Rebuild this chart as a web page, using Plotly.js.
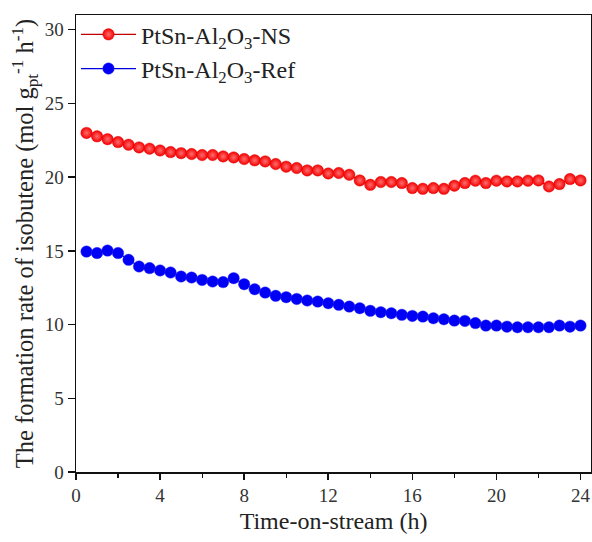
<!DOCTYPE html>
<html>
<head>
<meta charset="utf-8">
<script src="https://cdn.plot.ly/plotly-3.0.1.min.js"></script>
<style>html,body{margin:0;padding:0;background:#fff;}#chart{width:592px;height:542px;}</style>
</head>
<body>
<div id="chart"></div>
<script>
// Time-on-stream (h)
const timeH = [0.5,1.0,1.5,2.0,2.5,3.0,3.5,4.0,4.5,5.0,5.5,6.0,6.5,7.0,7.5,8.0,8.5,9.0,9.5,10.0,
  10.5,11.0,11.5,12.0,12.5,13.0,13.5,14.0,14.5,15.0,15.5,16.0,16.5,17.0,17.5,18.0,18.5,19.0,19.5,20.0,
  20.5,21.0,21.5,22.0,22.5,23.0,23.5,24.0];
// Formation rate, PtSn-Al2O3-NS
const rateNS = [23.0,22.77,22.58,22.38,22.2,22.02,21.93,21.81,21.70,21.63,
  21.57,21.50,21.50,21.41,21.34,21.23,21.14,21.07,20.89,20.71,
  20.62,20.46,20.46,20.25,20.28,20.16,19.78,19.48,19.67,19.67,
  19.60,19.26,19.21,19.26,19.21,19.42,19.60,19.76,19.60,19.76,
  19.71,19.71,19.76,19.78,19.37,19.53,19.87,19.78];
// Formation rate, PtSn-Al2O3-Ref
const rateRef = [14.95,14.85,15.02,14.85,14.39,13.94,13.83,13.67,13.53,13.26,
  13.19,13.03,12.92,12.88,13.15,12.74,12.40,12.17,11.95,11.86,
  11.74,11.63,11.56,11.45,11.34,11.22,11.11,10.93,10.84,10.77,
  10.66,10.59,10.54,10.43,10.36,10.27,10.25,10.10,9.93,9.93,
  9.86,9.82,9.82,9.82,9.82,9.93,9.86,9.93];
const seriesNames = ['PtSn-Al<sub>2</sub>O<sub>3</sub>-NS', 'PtSn-Al<sub>2</sub>O<sub>3</sub>-Ref'];
const xTicks = [0,4,8,12,16,20,24];
const yTicks = [0,5,10,15,20,25,30];

const FONT = 'Liberation Serif, Times New Roman, serif';

const traces = [
  {
    x: timeH, y: rateNS, name: seriesNames[0], type: 'scatter', mode: 'lines+markers',
    line: {color: '#c00000', width: 1.2},
    marker: {size: 11.5, color: '#f40000', line: {color: '#e00000', width: 0.4},
             gradient: {type: 'radial', color: '#ff6e6e'}}
  },
  {
    x: timeH, y: rateRef, name: seriesNames[1], type: 'scatter', mode: 'lines+markers',
    line: {color: '#0000dd', width: 1.2},
    marker: {size: 11.5, color: '#0000f5', line: {color: '#2a2aff', width: 0.4}}
  }
];

const layout = {
  width: 592, height: 542,
  margin: {l: 76, r: 1, t: 15, b: 70},
  paper_bgcolor: '#fff', plot_bgcolor: '#fff',
  font: {family: FONT, color: '#222'},
  showlegend: true,
  legend: {x: 0.0, y: 1.006, xanchor: 'left', yanchor: 'top', bgcolor: 'rgba(0,0,0,0)',
           font: {family: FONT, size: 24, color: '#222'}, itemwidth: 55, tracegroupgap: 2},
  xaxis: {
    range: [0, 24.5], tickvals: xTicks, ticktext: xTicks.map(String),
    showgrid: false, zeroline: false, showline: true, mirror: true,
    linecolor: '#111', linewidth: 1.5, ticks: 'outside', ticklen: 6, tickwidth: 1.5, tickcolor: '#111',
    tickfont: {family: FONT, size: 19, color: '#333'},
    minor: {dtick: 2, tick0: 0, ticks: 'outside', ticklen: 4, tickwidth: 1.2, tickcolor: '#111'},
    title: {text: 'Time-on-stream (h)', font: {family: FONT, size: 24, color: '#222'}, standoff: 7}
  },
  yaxis: {
    range: [0, 31], tickvals: yTicks, ticktext: yTicks.map(String),
    showgrid: false, zeroline: false, showline: true, mirror: true,
    linecolor: '#111', linewidth: 1.5, ticks: 'outside', ticklen: 7, tickwidth: 1.5, tickcolor: '#111',
    tickfont: {family: FONT, size: 19, color: '#333'},
    title: {text: 'The formation rate of isobutene (mol g<sub>pt</sub><sup>-1</sup> h<sup>-1</sup>)',
            font: {family: FONT, size: 24.5, color: '#222'}, standoff: 4}
  }
};

Plotly.newPlot('chart', traces, layout, {displayModeBar: false, staticPlot: true});
</script>
</body>
</html>
